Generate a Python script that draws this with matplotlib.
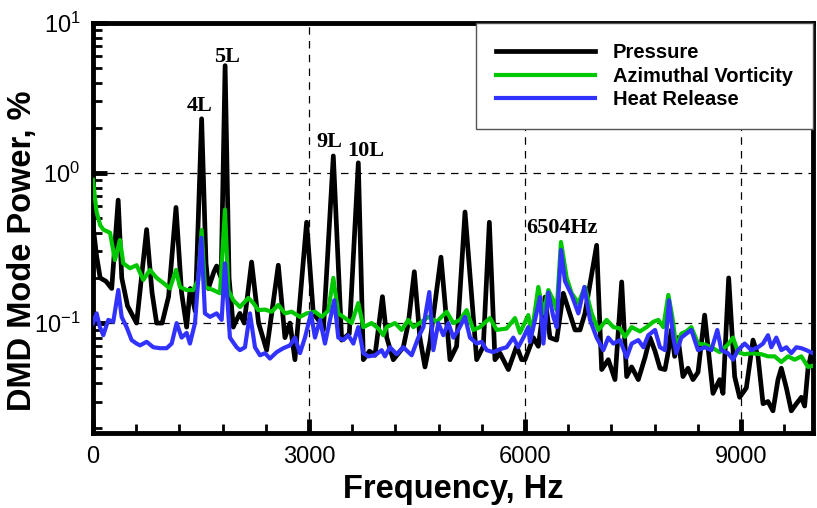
import matplotlib
matplotlib.use("Agg")
import matplotlib.pyplot as plt
from matplotlib.ticker import FixedLocator, LogLocator, NullFormatter

plt.rcParams['font.family'] = ['Liberation Sans', 'DejaVu Sans']

# pressure spectrum (black)
p_freq = [0, 50, 100, 180, 260, 350, 400, 480, 606, 745,
          820, 884, 960, 1050, 1153, 1230, 1301, 1350, 1420, 1509,
          1570, 1602, 1680, 1718, 1780, 1835, 1890, 1949, 1972, 2040,
          2100, 2203, 2300, 2412, 2574, 2666, 2736, 2805, 2967, 3060,
          3130, 3200, 3338, 3454, 3560, 3685, 3755, 3840, 3917, 4020,
          4080, 4171, 4310, 4380, 4463, 4540, 4611, 4680, 4833, 4958,
          5050, 5167, 5329, 5421, 5505, 5583, 5653, 5769, 5884, 5954,
          6000, 6116, 6185, 6278, 6347, 6440, 6532, 6695, 6764, 6833,
          6995, 7065, 7157, 7250, 7343, 7412, 7481, 7574, 7667, 7736,
          7806, 7875, 7944, 7986, 8032, 8079, 8125, 8194, 8264, 8333,
          8403, 8495, 8611, 8704, 8750, 8829, 8912, 8981, 9074, 9167,
          9236, 9306, 9375, 9444, 9514, 9560, 9630, 9699, 9769, 9838,
          9884, 9931, 9977, 10000]
p_power = [0.45, 0.28, 0.2, 0.19, 0.17, 0.66, 0.2, 0.13, 0.1, 0.42,
           0.16, 0.1, 0.1, 0.15, 0.59, 0.16, 0.094, 0.17, 0.12, 2.3,
           0.25, 0.17, 0.22, 0.24, 0.2, 5.2, 0.2, 0.094, 0.1, 0.116,
           0.1, 0.255, 0.1, 0.066, 0.243, 0.08, 0.1, 0.057, 0.47, 0.116,
           0.105, 0.09, 1.3, 0.077, 0.085, 1.17, 0.057, 0.065, 0.061, 0.15,
           0.08, 0.057, 0.069, 0.1, 0.22, 0.08, 0.051, 0.075, 0.275, 0.057,
           0.07, 0.55, 0.057, 0.07, 0.47, 0.057, 0.063, 0.049, 0.07, 0.057,
           0.057, 0.08, 0.07, 0.149, 0.08, 0.077, 0.158, 0.09, 0.09, 0.116,
           0.33, 0.049, 0.057, 0.042, 0.188, 0.044, 0.051, 0.042, 0.059, 0.08,
           0.065, 0.05, 0.049, 0.063, 0.09, 0.06, 0.08, 0.044, 0.05, 0.042,
           0.047, 0.113, 0.034, 0.042, 0.034, 0.2, 0.044, 0.032, 0.037, 0.077,
           0.06, 0.029, 0.03, 0.026, 0.042, 0.05, 0.037, 0.026, 0.029, 0.032,
           0.028, 0.05, 0.063, 0.06]

# azimuthal vorticity spectrum (green)
v_freq = [0, 50, 100, 143, 237, 305, 375, 421, 514, 606,
          699, 791, 884, 977, 1069, 1153, 1208, 1301, 1393, 1463,
          1509, 1555, 1671, 1764, 1833, 1880, 1949, 2042, 2157, 2227,
          2296, 2389, 2481, 2574, 2666, 2759, 2875, 2967, 3083, 3176,
          3268, 3338, 3407, 3500, 3592, 3685, 3755, 3870, 3963, 4032,
          4078, 4194, 4287, 4380, 4449, 4565, 4657, 4773, 4912, 5004,
          5097, 5190, 5282, 5375, 5514, 5606, 5745, 5861, 5931, 6046,
          6093, 6185, 6255, 6324, 6394, 6440, 6500, 6579, 6648, 6741,
          6833, 6926, 7019, 7134, 7227, 7320, 7389, 7482, 7597, 7690,
          7782, 7852, 7921, 7991, 8046, 8102, 8171, 8241, 8310, 8403,
          8495, 8588, 8704, 8819, 8889, 8958, 9051, 9144, 9282, 9375,
          9468, 9560, 9653, 9745, 9838, 9931, 10000]
v_power = [0.9, 0.55, 0.45, 0.42, 0.4, 0.263, 0.358, 0.25, 0.232, 0.243,
           0.194, 0.226, 0.2, 0.185, 0.17, 0.226, 0.174, 0.166, 0.166, 0.194,
           0.417, 0.174, 0.166, 0.158, 0.57, 0.166, 0.142, 0.128, 0.147, 0.136,
           0.122, 0.123, 0.119, 0.132, 0.116, 0.119, 0.11, 0.116, 0.119, 0.11,
           0.121, 0.2, 0.116, 0.108, 0.1, 0.136, 0.094, 0.1, 0.092, 0.083,
           0.094, 0.1, 0.09, 0.105, 0.094, 0.102, 0.11, 0.102, 0.119, 0.1,
           0.105, 0.122, 0.09, 0.094, 0.108, 0.09, 0.092, 0.108, 0.086, 0.113,
           0.085, 0.174, 0.116, 0.166, 0.142, 0.122, 0.347, 0.2, 0.158, 0.136,
           0.174, 0.116, 0.09, 0.105, 0.094, 0.092, 0.081, 0.094, 0.088, 0.094,
           0.102, 0.105, 0.094, 0.154, 0.11, 0.069, 0.085, 0.088, 0.094, 0.073,
           0.072, 0.069, 0.064, 0.072, 0.08, 0.064, 0.062, 0.063, 0.062, 0.06,
           0.06, 0.055, 0.06, 0.057, 0.06, 0.051, 0.052]

# heat release spectrum (blue)
h_freq = [0, 51, 97, 143, 213, 282, 352, 398, 467, 537,
          606, 653, 745, 838, 930, 1023, 1093, 1162, 1231, 1301,
          1347, 1417, 1505, 1555, 1625, 1717, 1787, 1833, 1902, 1995,
          2041, 2111, 2180, 2250, 2319, 2389, 2458, 2551, 2643, 2736,
          2805, 2875, 2944, 3028, 3083, 3153, 3222, 3292, 3352, 3407,
          3477, 3546, 3616, 3685, 3755, 3824, 3917, 4009, 4055, 4125,
          4218, 4310, 4426, 4518, 4588, 4671, 4727, 4796, 4866, 4935,
          5005, 5074, 5167, 5236, 5329, 5398, 5468, 5560, 5653, 5745,
          5838, 5907, 5977, 6046, 6069, 6139, 6208, 6255, 6324, 6394,
          6440, 6500, 6556, 6648, 6741, 6824, 6903, 6995, 7088, 7157,
          7227, 7320, 7412, 7482, 7574, 7644, 7713, 7806, 7875, 7944,
          8000, 8060, 8102, 8171, 8241, 8310, 8403, 8495, 8588, 8671,
          8727, 8819, 8889, 8958, 9051, 9144, 9236, 9306, 9375, 9421,
          9491, 9560, 9630, 9699, 9769, 9838, 9907, 10000]
h_power = [0.1, 0.116, 0.094, 0.083, 0.105, 0.102, 0.166, 0.11, 0.094, 0.077,
           0.073, 0.071, 0.075, 0.069, 0.068, 0.068, 0.073, 0.1, 0.08, 0.086,
           0.073, 0.1, 0.37, 0.116, 0.11, 0.116, 0.105, 0.25, 0.08, 0.069,
           0.066, 0.069, 0.116, 0.069, 0.061, 0.063, 0.058, 0.064, 0.068, 0.071,
           0.08, 0.063, 0.08, 0.116, 0.08, 0.105, 0.073, 0.105, 0.142, 0.08,
           0.077, 0.083, 0.073, 0.094, 0.063, 0.06, 0.061, 0.066, 0.06, 0.069,
           0.062, 0.069, 0.061, 0.08, 0.094, 0.161, 0.066, 0.1, 0.083, 0.1,
           0.08, 0.09, 0.11, 0.08, 0.073, 0.075, 0.066, 0.064, 0.067, 0.069,
           0.08, 0.069, 0.08, 0.094, 0.075, 0.105, 0.149, 0.073, 0.16, 0.11,
           0.094, 0.307, 0.19, 0.154, 0.116, 0.174, 0.105, 0.08, 0.066, 0.08,
           0.073, 0.077, 0.059, 0.073, 0.077, 0.069, 0.083, 0.09, 0.069, 0.066,
           0.142, 0.08, 0.063, 0.08, 0.085, 0.09, 0.066, 0.069, 0.066, 0.09,
           0.066, 0.063, 0.057, 0.066, 0.073, 0.066, 0.069, 0.073, 0.083, 0.069,
           0.08, 0.066, 0.069, 0.063, 0.069, 0.068, 0.066, 0.063]

fig = plt.figure(figsize=(8.17, 5.08), dpi=100)
ax = fig.add_axes([0.1138, 0.1476, 0.8813, 0.8071])

ax.plot(p_freq, p_power, color='black', lw=3.4, label='Pressure', zorder=3)
ax.plot(v_freq, v_power, color='#00c800', lw=3, label='Azimuthal Vorticity', zorder=4)
ax.plot(h_freq, h_power, color='#3232ff', lw=3, label='Heat Release', zorder=5)

ax.set_yscale('log')
ax.set_xlim(0, 10000)
ax.set_ylim(0.0185, 10)

ax.xaxis.set_major_locator(FixedLocator([0, 3000, 6000, 9000]))
ax.xaxis.set_minor_locator(FixedLocator([600 * i for i in range(17)]))
ax.yaxis.set_major_locator(LogLocator(base=10, numticks=10))
ax.yaxis.set_minor_locator(LogLocator(base=10, subs=range(2, 10), numticks=10))
ax.yaxis.set_minor_formatter(NullFormatter())

ax.grid(True, which='major', color='black', lw=0.9, ls=(0, (6, 5)))
ax.set_axisbelow(True)

for s in ax.spines.values():
    s.set_linewidth(3.5)
ax.tick_params(which='major', direction='in', length=10, width=3.5,
               top=False, right=False, labelsize=17, pad=9)
ax.tick_params(which='minor', direction='in', length=6.5, width=2,
               top=False, right=False)

ax.set_xlabel('Frequency, Hz', fontsize=23.5, fontweight='bold')
ax.set_ylabel('DMD Mode Power, %', fontsize=23.5, fontweight='bold')
ax.xaxis.set_label_coords(0.5, -0.1)
ax.yaxis.set_label_coords(-0.076, 0.445)

serif = dict(family='Liberation Serif', fontweight='bold', fontsize=16,
             ha='center', va='center')
ax.text(1479, 2.8, '4L', **serif)
ax.text(1868, 5.9, '5L', **serif)
ax.text(3278, 1.6, '9L', **serif)
ax.text(3792, 1.41, '10L', **serif)
ax.text(6514, 0.433, '6504Hz', **serif)

leg = ax.legend(loc='upper right', bbox_to_anchor=(1, 1), borderaxespad=0,
                fancybox=False, framealpha=1, edgecolor='#555555',
                prop={'weight': 'bold', 'size': 14.5}, handlelength=4.9,
                handletextpad=0.9, labelspacing=0.22, borderpad=1.0)
leg.get_frame().set_linewidth(1.0)
leg.set_zorder(10)

plt.savefig('out.png', dpi=100)
